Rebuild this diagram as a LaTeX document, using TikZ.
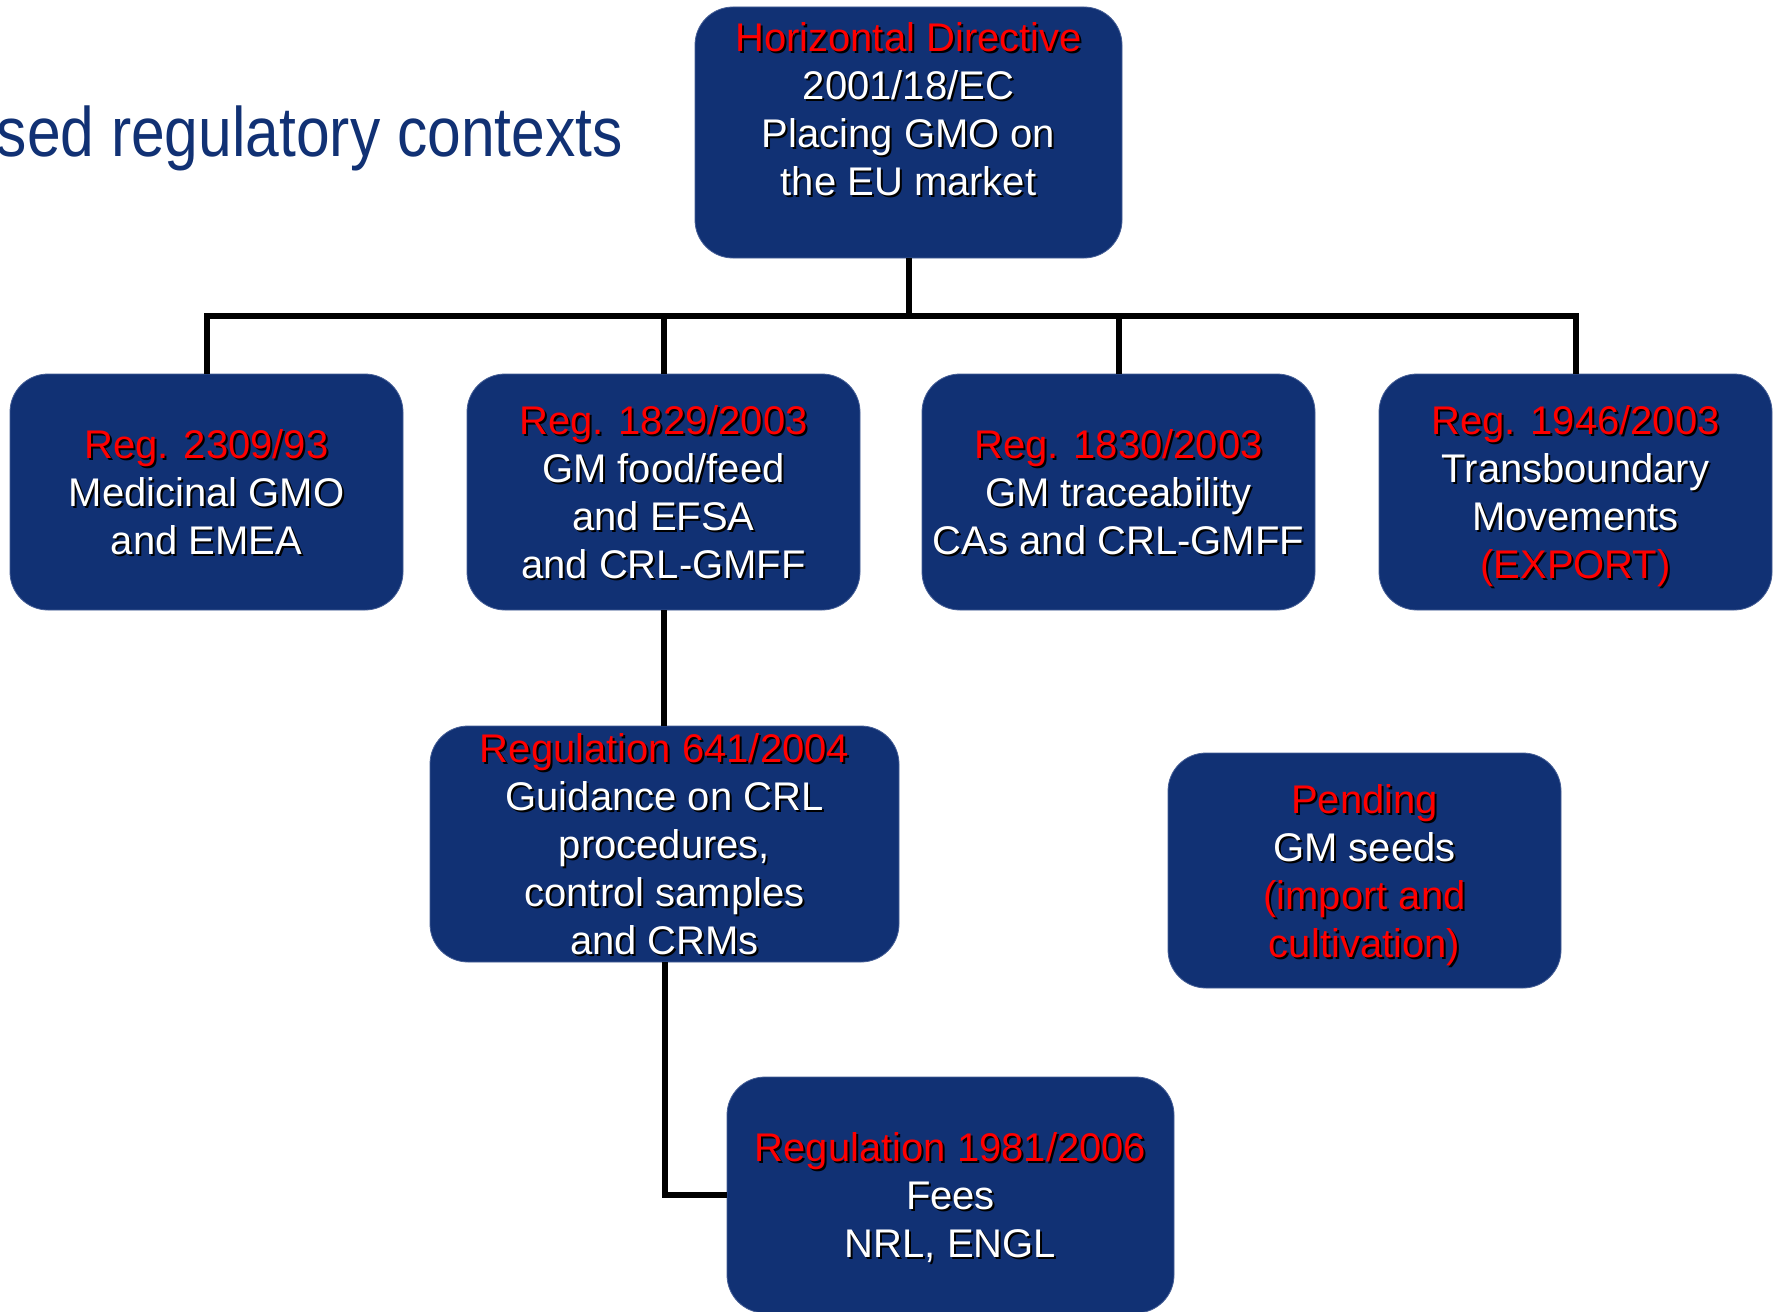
\documentclass[tikz,border=0pt]{standalone}
\usepackage{graphicx}
\usepackage{fontspec}
\setmainfont{Liberation Sans}
\definecolor{navy}{RGB}{17,49,116}
\definecolor{boxedge}{RGB}{70,95,150}
\definecolor{redtxt}{RGB}{255,0,0}
\newcommand\shadowtxt[2]{\leavevmode\raisebox{0pt}[\height][0pt]{\rlap{\raisebox{-2pt}[0pt][0pt]{\hspace*{2pt}\textcolor{black}{#2}}}\textcolor{#1}{#2}}}
\newcommand\redln[1]{\shadowtxt{redtxt}{#1}}
\newcommand\whln[1]{\shadowtxt{white}{#1}}
\begin{document}
\begin{tikzpicture}[x=1pt,y=1pt,
  regbox/.style={draw=boxedge, line width=0.8pt, fill=navy, rounded corners=38pt,
    align=center, inner sep=0pt, font=\fontsize{40}{48}\selectfont},
  conn/.style={line width=6pt, line join=miter, draw=black}]
\useasboundingbox (0,0) rectangle (1779,-1311);
\fill[white] (0,0) rectangle (1779,-1311);

\node[anchor=base east, text=navy, inner sep=0pt, font=\fontsize{70}{84}\selectfont] (title) at (623,-157)
  {\scalebox{0.865}[1]{sed regulatory contexts}};

\node[regbox, minimum width=427pt, minimum height=251pt] (top) at (908.5,-132.5)
  {\redln{Horizontal Directive}\\ \whln{2001/18/EC}\\ \whln{Placing GMO on}\\ \whln{the EU market}\\[-2pt]\mbox{}};

\node[regbox, minimum width=393pt, minimum height=236pt] (b1) at (206.5,-492)
  {\redln{Reg. 2309/93}\\ \whln{Medicinal GMO}\\ \whln{and EMEA}};
\node[regbox, minimum width=393pt, minimum height=236pt] (b2) at (663.5,-492)
  {\redln{Reg. 1829/2003}\\ \whln{GM food/feed}\\ \whln{and EFSA}\\ \whln{and CRL-GMFF}};
\node[regbox, minimum width=393pt, minimum height=236pt] (b3) at (1118.5,-492)
  {\redln{Reg. 1830/2003}\\ \whln{GM traceability}\\ \whln{CAs and CRL-GMFF}};
\node[regbox, minimum width=393pt, minimum height=236pt] (b4) at (1575.5,-492)
  {\redln{Reg. 1946/2003}\\ \whln{Transboundary}\\ \whln{Movements}\\ \redln{(EXPORT)}};

\node[regbox, minimum width=469pt, minimum height=236pt] (b5) at (664.5,-844)
  {\redln{Regulation 641/2004}\\ \whln{Guidance on CRL}\\ \whln{procedures,}\\ \whln{control samples}\\ \whln{and CRMs}};

\node[regbox, minimum width=393pt, minimum height=235pt] (b7) at (1364.5,-870.5)
  {\redln{Pending}\\ \whln{GM seeds}\\ \redln{(import and}\\ \redln{cultivation)}};

\node[regbox, minimum width=447pt, minimum height=236pt] (b6) at (950.5,-1195)
  {\redln{Regulation 1981/2006}\\ \whln{Fees}\\ \whln{NRL, ENGL}};

\coordinate (bus) at (908.5,-316);
\draw[conn] (top.south) -- (bus);
\draw[conn] (b1.north) |- (bus) -| (b4.north);
\draw[conn] (b2.north) -- (b2.north |- bus);
\draw[conn] (b3.north) -- (b3.north |- bus);
\draw[conn] (b2.south) -- (b2.south |- b5.north);
\draw[conn] (b5.south) |- (b6.west);
\end{tikzpicture}
\end{document}
